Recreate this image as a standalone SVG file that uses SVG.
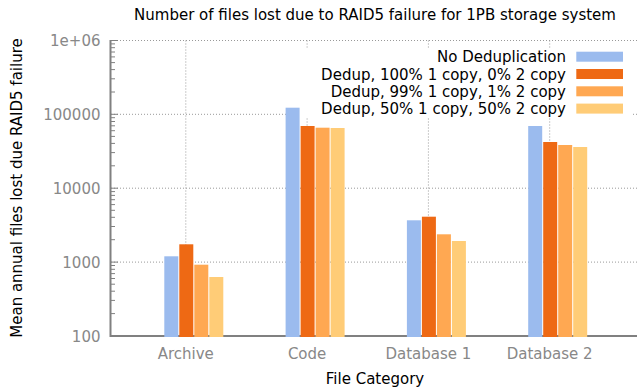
<svg xmlns="http://www.w3.org/2000/svg" width="638" height="391" viewBox="0 0 638 391">
<style>
text{font-family:"DejaVu Sans",sans-serif;font-size:15px}
.tl{fill:#888;text-anchor:end}
.cl{fill:#888;text-anchor:middle}
.lg{fill:#000;text-anchor:end}
.grid{stroke:#999;stroke-width:1;stroke-dasharray:1 2;fill:none}
.axis{stroke:#808080;stroke-width:2;fill:none}
.tick{stroke:#808080;stroke-width:1;fill:none}
.s0{fill:#9BBBEE}.s1{fill:#EE6914}.s2{fill:#FFA852}.s3{fill:#FFCC77}
</style>
<rect width="638" height="391" fill="#fff"/>
<text x="375" y="20" text-anchor="middle" fill="#000">Number of files lost due to RAID5 failure for 1PB storage system</text>
<g id="grid">
<path class="grid" d="M111 40.5H637M111 114.3H637M111 188.2H637M111 262.1H637"/>
<path class="grid" d="M185.8 40.5V336M307.1 40.5V336M428.4 40.5V336M549.7 40.5V336"/>
</g>
<rect x="300" y="48" width="332" height="69" fill="#fff"/>
<g id="axes">
<path class="axis" d="M110.5 40V337M110 336H637"/>
<path class="tick" d="M111 40.5h7M111 114.3h7M111 188.2h7M111 262.1h7M111 336h7
M111 43.9h4M111 47.7h4M111 52h4M111 56.9h4M111 62.6h4M111 69.6h4M111 78.8h4M111 92h4
M111 117.7h4M111 121.5h4M111 125.8h4M111 130.7h4M111 136.4h4M111 143.4h4M111 152.6h4M111 165.8h4
M111 191.6h4M111 195.4h4M111 199.7h4M111 204.6h4M111 210.3h4M111 217.3h4M111 226.5h4M111 239.7h4
M111 265.5h4M111 269.3h4M111 273.6h4M111 278.5h4M111 284.2h4M111 291.2h4M111 300.4h4M111 313.6h4"/>
<text class="tl" x="100.5" y="46">1e+06</text>
<text class="tl" x="100.5" y="119.8">100000</text>
<text class="tl" x="100.5" y="193.7">10000</text>
<text class="tl" x="100.5" y="267.6">1000</text>
<text class="tl" x="100.5" y="341.5">100</text>
<text class="cl" x="185.8" y="359">Archive</text>
<text class="cl" x="307.1" y="359">Code</text>
<text class="cl" x="428.4" y="359">Database 1</text>
<text class="cl" x="549.7" y="359">Database 2</text>
<text x="375" y="384" text-anchor="middle" fill="#000">File Category</text>
<text transform="translate(21.5 188) rotate(-90)" text-anchor="middle" fill="#000">Mean annual files lost due RAID5 failure</text>
</g>
<g id="archive">
<rect class="s0" x="164.3" y="256.3" width="14" height="80.7"/>
<rect class="s1" x="179.3" y="244.3" width="14" height="92.7"/>
<rect class="s2" x="194.3" y="264.7" width="14" height="72.3"/>
<rect class="s3" x="209.3" y="277" width="14" height="60"/>
</g>
<g id="code">
<rect class="s0" x="285.6" y="107.7" width="14" height="229.3"/>
<rect class="s1" x="300.6" y="126" width="14" height="211"/>
<rect class="s2" x="315.6" y="127.7" width="14" height="209.3"/>
<rect class="s3" x="330.6" y="128" width="14" height="209"/>
</g>
<g id="database1">
<rect class="s0" x="406.9" y="220.3" width="14" height="116.7"/>
<rect class="s1" x="421.9" y="216.7" width="14" height="120.3"/>
<rect class="s2" x="436.9" y="234.3" width="14" height="102.7"/>
<rect class="s3" x="451.9" y="241" width="14" height="96"/>
</g>
<g id="database2">
<rect class="s0" x="528.2" y="126" width="14" height="211"/>
<rect class="s1" x="543.2" y="142" width="14" height="195"/>
<rect class="s2" x="558.2" y="145" width="14" height="192"/>
<rect class="s3" x="573.2" y="147" width="14" height="190"/>
</g>
<g id="legend">
<text class="lg" x="566" y="62.3">No Deduplication</text>
<text class="lg" x="566" y="79.6">Dedup, 100% 1 copy, 0% 2 copy</text>
<text class="lg" x="566" y="96.9">Dedup, 99% 1 copy, 1% 2 copy</text>
<text class="lg" x="566" y="114.2">Dedup, 50% 1 copy, 50% 2 copy</text>
<rect class="s0" x="576.3" y="51.7" width="46.7" height="10"/>
<rect class="s1" x="576.3" y="69" width="46.7" height="10"/>
<rect class="s2" x="576.3" y="86.3" width="46.7" height="10"/>
<rect class="s3" x="576.3" y="103.6" width="46.7" height="10"/>
</g>
</svg>
